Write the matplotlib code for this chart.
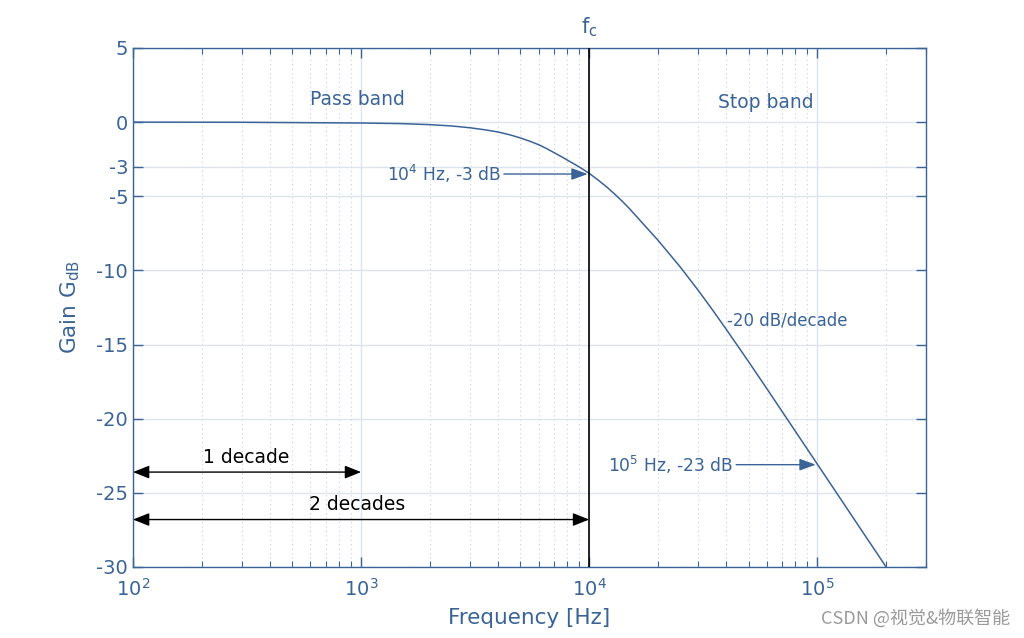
import matplotlib
matplotlib.use("Agg")
import matplotlib.pyplot as plt
from matplotlib.ticker import LogLocator, NullFormatter

plt.rcParams["axes.unicode_minus"] = False

# values
freq_hz = [100, 300, 1000, 1500, 2000, 2500, 3000, 3500, 4000, 4500, 5000,
           5500, 6000, 6500, 7000, 7500, 8000, 8500, 9000, 9500, 10000,
           11000, 12000, 13000, 14000, 15000, 17000, 20000, 25000, 30000,
           35000, 40000, 50000, 60000, 70000, 80000, 100000, 150000, 200000]
gain_db = [0.0, -0.01, -0.06, -0.1, -0.17, -0.26, -0.38, -0.52, -0.67, -0.86,
           -1.07, -1.29, -1.52, -1.78, -2.05, -2.3, -2.55, -2.78, -3.0, -3.23,
           -3.45, -3.93, -4.4, -4.88, -5.35, -5.82, -6.75, -7.95, -9.74, -11.32,
           -12.73, -13.99, -16.15, -17.95, -19.49, -20.82, -23.05, -27.1, -29.97]
y_ticks = [5, 0, -3, -5, -10, -15, -20, -25, -30]
f_cut = 1e4

BLUE = "#3a6497"
GRID = "#dde4ee"

fig = plt.figure(figsize=(10.24, 6.38), dpi=100)
ax = fig.add_axes([0.1299, 0.1113, 0.7744, 0.8135])

ax.semilogx(freq_hz, gain_db, color=BLUE, lw=1.1, zorder=3)
ax.axvline(f_cut, color="black", lw=1.2, zorder=4)

ax.set_xlim(1e2, 3e5)
ax.set_ylim(-30, 5)
ax.set_yticks(y_ticks)
ax.xaxis.set_major_locator(LogLocator(base=10, numticks=10))
ax.xaxis.set_minor_locator(LogLocator(base=10, subs=range(2, 10), numticks=20))
ax.xaxis.set_minor_formatter(NullFormatter())

ax.grid(True, which="major", color=GRID, lw=1, ls="-")
ax.grid(True, which="minor", axis="x", color="#c3cfdf", lw=0.8, ls=(0, (1, 3)))
ax.set_axisbelow(True)

for s in ax.spines.values():
    s.set_color(BLUE)
    s.set_linewidth(1)
ax.tick_params(which="both", direction="in", top=True, right=True,
               colors=BLUE, labelsize=14)
ax.tick_params(which="major", length=7, width=1)
ax.tick_params(which="minor", length=4, width=0.8)
ax.tick_params(axis="x", which="major", pad=8)

ax.set_xlabel("Frequency [Hz]", fontsize=15.5, color=BLUE, labelpad=6)
ax.set_ylabel(r"Gain G$_{\rm dB}$", fontsize=15.5, color=BLUE, labelpad=10)

ax.text(f_cut, 5.6, r"f$_{\rm c}$", fontsize=15, color=BLUE,
        ha="center", va="bottom")

ax.text(966, 1.5, "Pass band", fontsize=13.5, color=BLUE, ha="center", va="center")
ax.text(5.97e4, 1.3, "Stop band", fontsize=13.5, color=BLUE, ha="center", va="center")
ax.text(4.03e4, -13.4, "-20 dB/decade", fontsize=12, color=BLUE,
        ha="left", va="center")

blue_arrow = dict(arrowstyle="-|>,head_length=0.55,head_width=0.2", color=BLUE,
                  lw=1, mutation_scale=18, shrinkA=0, shrinkB=1)
ax.annotate(r"10$^4$ Hz, -3 dB", xy=(f_cut, -3.5), xytext=(4.11e3, -3.5),
            fontsize=12.3, color=BLUE, ha="right", va="center",
            arrowprops=blue_arrow)
ax.annotate(r"10$^5$ Hz, -23 dB", xy=(1e5, -23.1), xytext=(4.29e4, -23.1),
            fontsize=12.3, color=BLUE, ha="right", va="center",
            arrowprops=blue_arrow)

black_arrow = dict(arrowstyle="<|-|>,head_length=0.55,head_width=0.22",
                   color="black", lw=1, mutation_scale=18, shrinkA=0, shrinkB=0)
ax.annotate("", xy=(1e3, -23.6), xytext=(1e2, -23.6), arrowprops=black_arrow)
ax.text(313, -22.65, "1 decade", fontsize=13.5, color="black",
        ha="center", va="center")
ax.annotate("", xy=(1e4, -26.8), xytext=(1e2, -26.8), arrowprops=black_arrow)
ax.text(960, -25.8, "2 decades", fontsize=13.5, color="black",
        ha="center", va="center")

fig.text(0.986, 0.031, "CSDN @视觉&物联智能", fontsize=13, color="#9a9a9a",
         ha="right", va="center", family=["Noto Sans CJK SC", "DejaVu Sans"])

fig.savefig("out.png", dpi=100)
